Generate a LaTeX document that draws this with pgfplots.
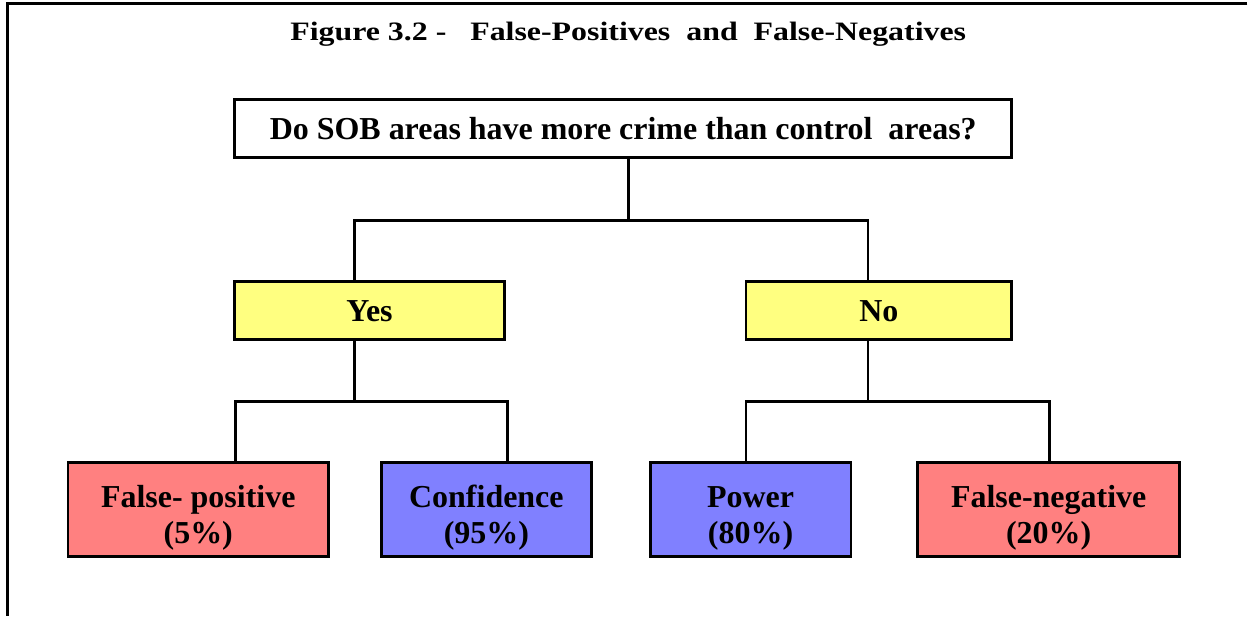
\documentclass[border=0pt]{standalone}
\usepackage{pgfplots}
\pgfplotsset{compat=1.18}
\usepackage{fontspec}
\setmainfont{Liberation Serif}
\definecolor{boxyellow}{HTML}{FFFF80}
\definecolor{boxred}{HTML}{FF8080}
\definecolor{boxblue}{HTML}{8080FF}
\begin{document}
\begin{tikzpicture}
\begin{axis}[
  hide axis, scale only axis,
  width=624.5pt, height=308.5pt,
  xmin=0, xmax=1249, ymin=0, ymax=617,
  y dir=reverse, clip=false,
  every axis plot/.append style={line width=1.4pt, mark=none},
]
% invisible extent
\addplot[draw=none] coordinates {(0,0) (1249,617)};
% frame
\addplot[black, line width=1.6pt] coordinates {(1249,3.8) (7.6,3.8) (7.6,617)};
% connectors
\addplot[black] coordinates {(629,158) (629,221)};
\addplot[black] coordinates {(355,282) (355,221) (869,221) (869,282)};
\addplot[black] coordinates {(355,340) (355,402)};
\addplot[black] coordinates {(236,463) (236,402) (508,402) (508,463)};
\addplot[black] coordinates {(869,340) (869,402)};
\addplot[black] coordinates {(747,463) (747,402) (1051,402) (1051,463)};
% boxes
\addplot[draw=black, fill=white] coordinates {(235,100) (1013,100) (1013,158) (235,158)} -- cycle;
\addplot[draw=black, fill=boxyellow] coordinates {(235,282) (505,282) (505,340) (235,340)} -- cycle;
\addplot[draw=black, fill=boxyellow] coordinates {(747,282) (1013,282) (1013,340) (747,340)} -- cycle;
\addplot[draw=black, fill=boxred] coordinates {(68,463) (329,463) (329,557) (68,557)} -- cycle;
\addplot[draw=black, fill=boxblue] coordinates {(382,463) (592,463) (592,557) (382,557)} -- cycle;
\addplot[draw=black, fill=boxblue] coordinates {(651,463) (852,463) (852,557) (651,557)} -- cycle;
\addplot[draw=black, fill=boxred] coordinates {(919,463) (1181,463) (1181,557) (919,557)} -- cycle;
% texts
\node[font=\fontsize{13.3}{16}\selectfont\bfseries, anchor=base] at (axis cs:629,41) {\scalebox{1.2}[1]{Figure 3.2 -\ \ \ False-Positives\ \ and\ \ False-Negatives}};
\node[font=\fontsize{16}{18}\selectfont\bfseries, anchor=base] at (axis cs:624,140) {Do SOB areas have more crime than control\ \ areas?};
\node[font=\fontsize{16}{18}\selectfont\bfseries, anchor=base] at (axis cs:370,322) {Yes};
\node[font=\fontsize{16}{18}\selectfont\bfseries, anchor=base] at (axis cs:880,322) {No};
\node[font=\fontsize{16}{18}\selectfont\bfseries, anchor=base] at (axis cs:198.5,508) {False- positive};
\node[font=\fontsize{16}{18}\selectfont\bfseries, anchor=base] at (axis cs:198.5,544) {(5\%)};
\node[font=\fontsize{16}{18}\selectfont\bfseries, anchor=base] at (axis cs:487,508) {Confidence};
\node[font=\fontsize{16}{18}\selectfont\bfseries, anchor=base] at (axis cs:487,544) {(95\%)};
\node[font=\fontsize{16}{18}\selectfont\bfseries, anchor=base] at (axis cs:751.5,508) {Power};
\node[font=\fontsize{16}{18}\selectfont\bfseries, anchor=base] at (axis cs:751.5,544) {(80\%)};
\node[font=\fontsize{16}{18}\selectfont\bfseries, anchor=base] at (axis cs:1050,508) {False-negative};
\node[font=\fontsize{16}{18}\selectfont\bfseries, anchor=base] at (axis cs:1050,544) {(20\%)};
\end{axis}
\end{tikzpicture}
\end{document}
